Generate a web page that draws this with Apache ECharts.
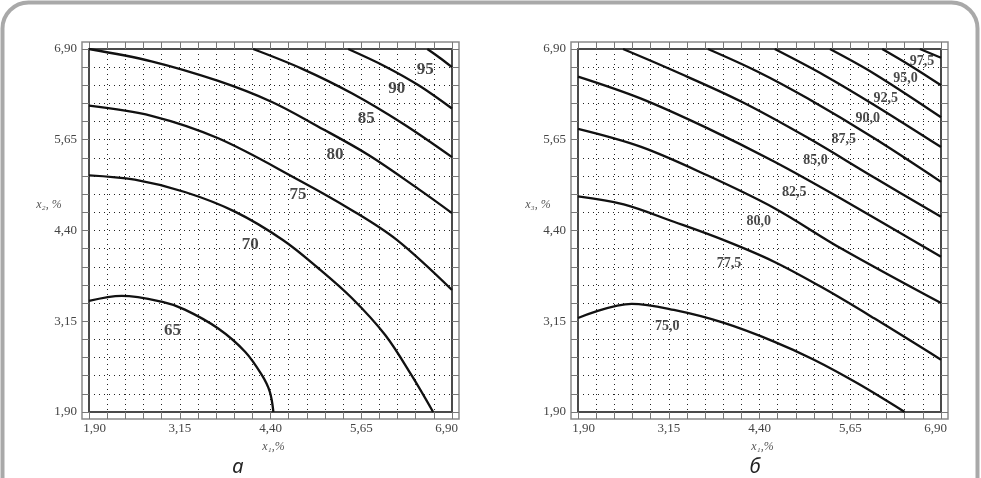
<!DOCTYPE html>
<html>
<head>
<meta charset="utf-8">
<script src="https://cdn.jsdelivr.net/npm/echarts@6/dist/echarts.min.js"></script>
<style>
  html, body { margin: 0; padding: 0; background: #fff; }
  #chart { width: 981px; height: 478px; }
</style>
</head>
<body>
<div id="chart"></div>
<script>
  // tick labels, both axes of both plots (%)
  const tickValues = [1.90, 3.15, 4.40, 5.65, 6.90]
  const tickLabels = ['1,90', '3,15', '4,40', '5,65', '6,90']

  // plot a: contour lines, points [x1, x2]
  const a65 = [[1.90, 3.43], [2.35, 3.50], [2.90, 3.42], [3.22, 3.31], [3.68, 3.05], [4.05, 2.73], [4.28, 2.41], [4.39, 2.18], [4.44, 1.90]]
  const a70 = [[1.90, 5.16], [2.53, 5.10], [3.22, 4.93], [3.91, 4.66], [4.57, 4.27], [5.06, 3.88], [5.52, 3.47], [5.98, 2.96], [6.34, 2.41], [6.64, 1.90]]
  const a75 = [[1.90, 6.12], [2.76, 5.98], [3.68, 5.67], [4.78, 5.10], [5.52, 4.68], [6.14, 4.27], [6.90, 3.58]]
  const a80 = [[1.90, 6.90], [2.76, 6.73], [3.68, 6.46], [4.42, 6.17], [5.06, 5.83], [5.75, 5.44], [6.44, 4.97], [6.90, 4.64]]
  const a85 = [[4.16, 6.90], [4.83, 6.63], [5.52, 6.29], [6.21, 5.88], [6.90, 5.41]]
  const a90 = [[5.47, 6.90], [5.98, 6.66], [6.44, 6.40], [6.90, 6.08]]
  const a95 = [[6.56, 6.90], [6.73, 6.78], [6.90, 6.65]]
  const levelsA = ['65', '70', '75', '80', '85', '90', '95']
  const labelPosA = [[3.05, 3.02], [4.12, 4.21], [4.78, 4.89], [5.29, 5.45], [5.72, 5.94], [6.14, 6.36], [6.53, 6.61]]

  // plot б: contour lines, points [x1, x3]
  const b750 = [[1.90, 3.195], [2.64, 3.39], [3.22, 3.305], [3.90, 3.13], [4.60, 2.87], [5.15, 2.62], [5.75, 2.295], [6.40, 1.90]]
  const b775 = [[1.90, 4.87], [2.53, 4.76], [3.22, 4.52], [3.90, 4.27], [4.60, 3.97], [5.29, 3.60], [5.98, 3.19], [6.90, 2.62]]
  const b800 = [[1.90, 5.80], [2.76, 5.555], [3.68, 5.16], [4.60, 4.71], [5.52, 4.155], [6.90, 3.40]]
  const b825 = [[1.90, 6.52], [2.76, 6.22], [3.68, 5.81], [4.60, 5.35], [5.52, 4.84], [6.90, 4.04]]
  const b850 = [[2.52, 6.90], [3.22, 6.60], [4.14, 6.18], [5.06, 5.68], [5.98, 5.13], [6.90, 4.59]]
  const b875 = [[3.69, 6.90], [4.37, 6.59], [5.06, 6.22], [5.98, 5.67], [6.90, 5.07]]
  const b900 = [[4.61, 6.90], [5.29, 6.54], [5.98, 6.13], [6.90, 5.55]]
  const b925 = [[5.37, 6.90], [5.98, 6.56], [6.90, 5.96]]
  const b950 = [[6.09, 6.90], [6.48, 6.67], [6.90, 6.40]]
  const b975 = [[6.61, 6.90], [6.90, 6.78]]
  const levelsB = ['75,0', '77,5', '80,0', '82,5', '85,0', '87,5', '90,0', '92,5', '95,0', '97,5']
  const labelPosB = [[3.13, 3.08], [3.98, 3.95], [4.39, 4.52], [4.88, 4.93], [5.17, 5.37], [5.56, 5.66], [5.89, 5.95], [6.14, 6.22], [6.41, 6.50], [6.64, 6.73]]

  const plots = [
    {left: 89, lines: [a65, a70, a75, a80, a85, a90, a95], levels: levelsA, labelPos: labelPosA, labelSize: 17,
      yTitle: 'x₂, %', caption: 'а', captionX: 238},
    {left: 578, lines: [b750, b775, b800, b825, b850, b875, b900, b925, b950, b975], levels: levelsB, labelPos: labelPosB, labelSize: 14,
      yTitle: 'x₃, %', caption: 'б', captionX: 755}
  ]
  const TOP = 49
  const SIZE = 363
  const serif = '"Liberation Serif", "DejaVu Serif", serif'

  function tickText(v, shiftEnds) {
    const i = tickValues.findIndex(t => Math.abs(t - v) < 1e-6)
    if (i < 0) return ''
    if (shiftEnds && i === 0) return '{l|' + tickLabels[i] + '}'
    if (shiftEnds && i === tickValues.length - 1) return '{r|' + tickLabels[i] + '}'
    return tickLabels[i]
  }

  function makeAxis(gridIndex, position, main) {
    const isX = position === 'bottom' || position === 'top'
    const labelFont = {fontFamily: serif, fontSize: 13, color: '#444'}
    return {
      type: 'value',
      gridIndex: gridIndex,
      position: position,
      min: 1.9,
      max: 6.9,
      interval: 0.25,
      axisLine: {show: true, onZero: false, lineStyle: {color: '#4a4a4a', width: 2}},
      axisTick: {show: true, inside: false, length: 7, lineStyle: {color: '#777', width: 1}},
      axisLabel: main ? Object.assign({
        show: true,
        margin: isX ? 10 : 12,
        formatter: v => tickText(v, isX),
        rich: {
          l: Object.assign({padding: [0, 0, 0, 11]}, labelFont),
          r: Object.assign({padding: [0, 11, 0, 0]}, labelFont)
        }
      }, labelFont) : {show: false},
      splitLine: {show: main, lineStyle: {type: [1, 4], color: '#222', width: 1}}
    }
  }

  const grid = []
  const xAxis = []
  const yAxis = []
  const series = []
  const graphic = [
    {type: 'rect', shape: {x: 2.5, y: 2.5, width: 975, height: 560, r: 26},
      style: {fill: 'none', stroke: '#a9a9a9', lineWidth: 4}, silent: true}
  ]

  plots.forEach((p, k) => {
    grid.push({left: p.left, top: TOP, width: SIZE, height: SIZE, show: false})
    xAxis.push(makeAxis(k, 'bottom', true), makeAxis(k, 'top', false))
    yAxis.push(makeAxis(k, 'left', true), makeAxis(k, 'right', false))

    p.lines.forEach(pts => {
      series.push({
        type: 'line',
        xAxisIndex: 2 * k,
        yAxisIndex: 2 * k,
        data: pts,
        smooth: 0.35,
        symbol: 'none',
        lineStyle: {color: '#111', width: 2.3},
        silent: true,
        z: 3
      })
    })

    series.push({
      type: 'scatter',
      xAxisIndex: 2 * k,
      yAxisIndex: 2 * k,
      symbolSize: 1,
      itemStyle: {color: 'rgba(0,0,0,0)'},
      data: p.levels.map((name, i) => ({name: name, value: p.labelPos[i]})),
      label: {
        show: true,
        position: 'inside',
        formatter: '{b}',
        fontFamily: serif,
        fontWeight: 'bold',
        fontSize: p.labelSize,
        color: '#1a1a1a'
      },
      silent: true,
      z: 4
    })

    const cx = p.left + SIZE / 2
    graphic.push(
      {type: 'rect', shape: {x: p.left - 7, y: TOP - 7, width: SIZE + 14, height: SIZE + 14},
        style: {fill: 'none', stroke: '#8a8a8a', lineWidth: 1.5}, silent: true},
      {type: 'text', x: p.left - 40, y: 205,
        style: {text: p.yTitle, font: 'italic 12px ' + serif, fill: '#555', textAlign: 'center', textVerticalAlign: 'middle'}},
      {type: 'text', x: cx + 3, y: 447,
        style: {text: 'x₁,%', font: 'italic 12px ' + serif, fill: '#555', textAlign: 'center', textVerticalAlign: 'middle'}},
      {type: 'text', x: p.captionX, y: 467,
        style: {text: p.caption, font: 'italic 20px "Noto Sans", "DejaVu Sans", sans-serif', fill: '#222', textAlign: 'center', textVerticalAlign: 'middle'}}
    )
  })

  const chart = echarts.init(document.getElementById('chart'))
  chart.setOption({
    animation: false,
    backgroundColor: '#fff',
    grid: grid,
    xAxis: xAxis,
    yAxis: yAxis,
    series: series,
    graphic: graphic
  })
</script>
</body>
</html>
